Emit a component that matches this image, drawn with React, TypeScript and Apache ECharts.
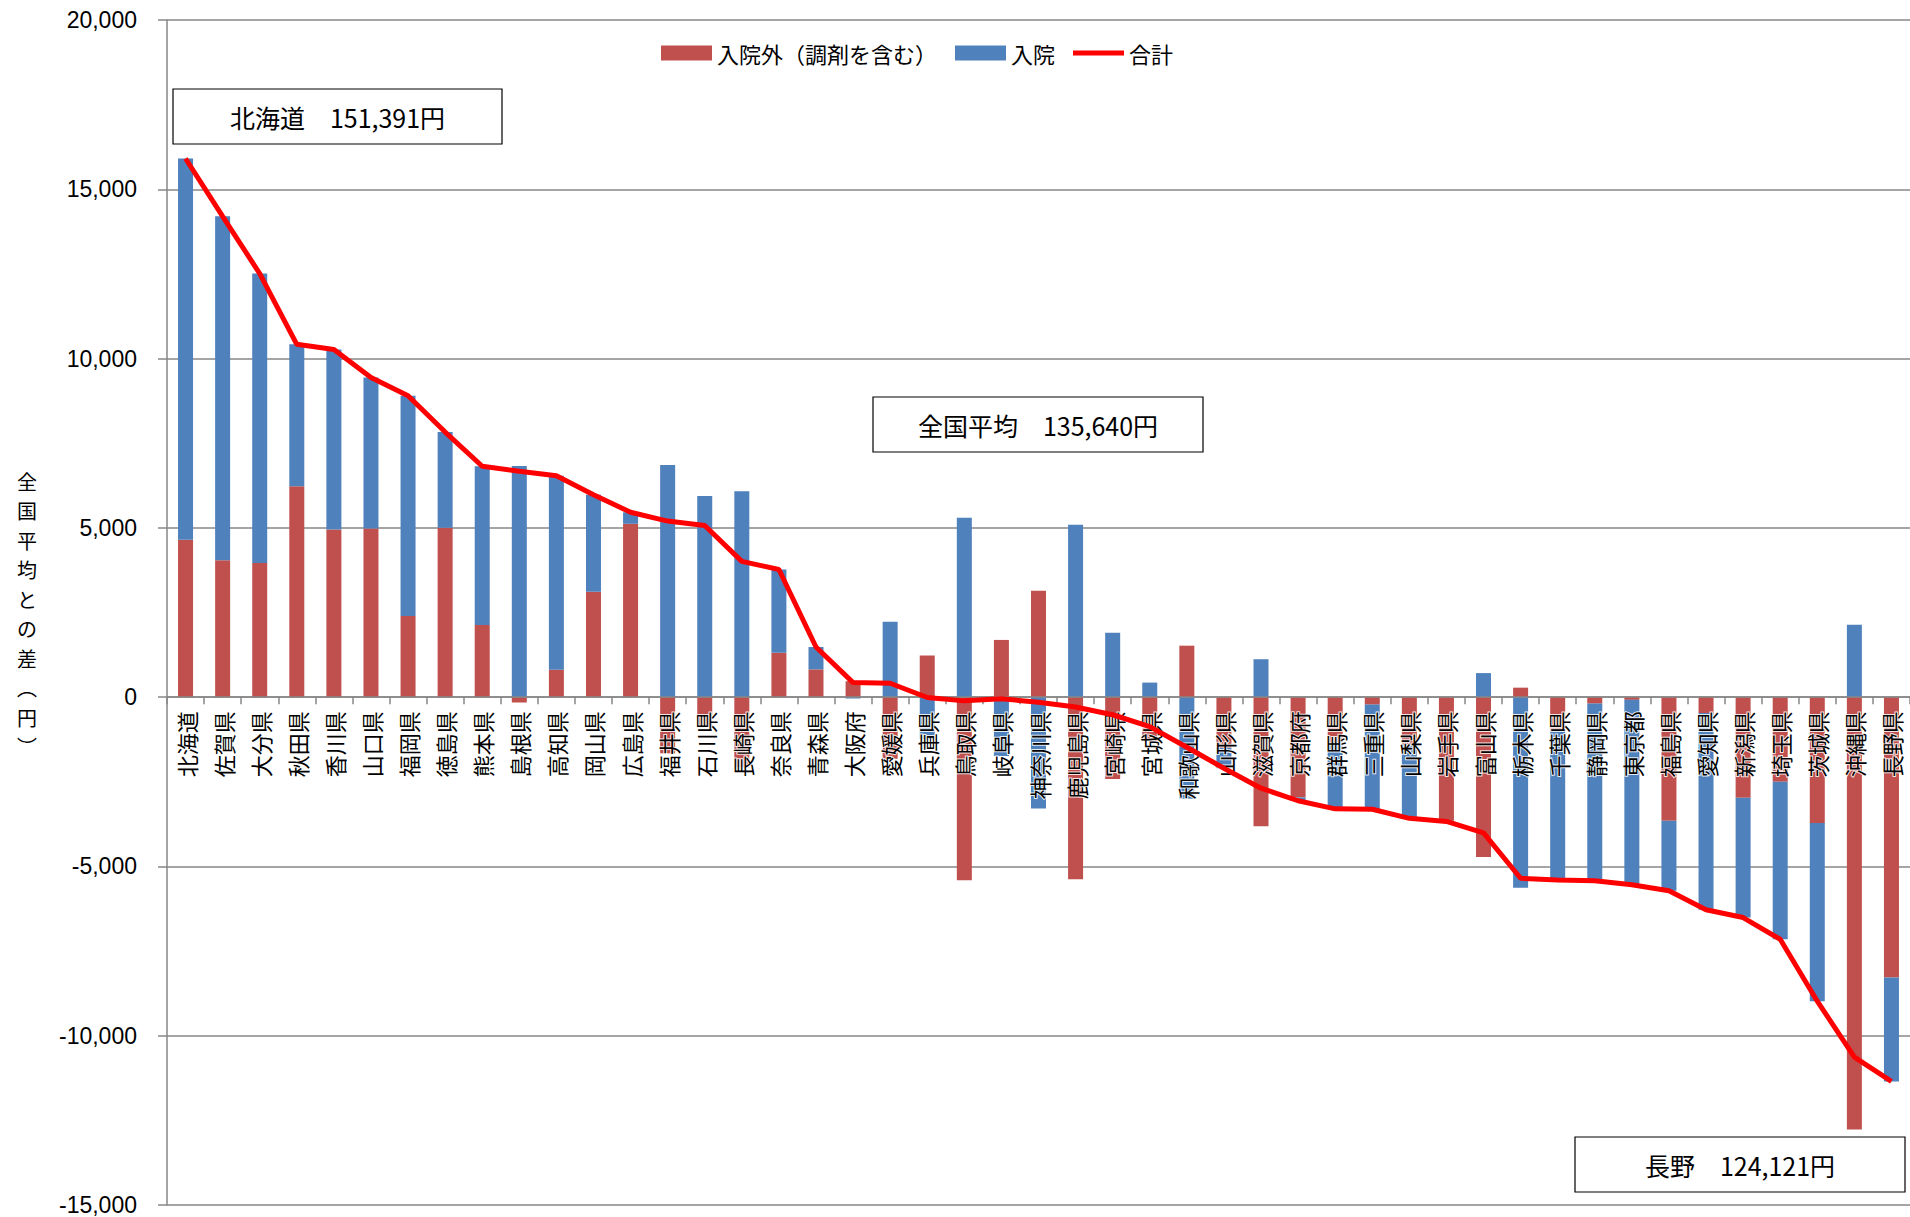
import React, { useEffect, useRef } from "react";
import * as echarts from "echarts";

const categories = [
  "北海道", "佐賀県", "大分県", "秋田県", "香川県", "山口県", "福岡県", "徳島県", "熊本県", "島根県",
  "高知県", "岡山県", "広島県", "福井県", "石川県", "長崎県", "奈良県", "青森県", "大阪府", "愛媛県",
  "兵庫県", "鳥取県", "岐阜県", "神奈川県", "鹿児島県", "宮崎県", "宮城県", "和歌山県", "山形県", "滋賀県",
  "京都府", "群馬県", "三重県", "山梨県", "岩手県", "富山県", "栃木県", "千葉県", "静岡県", "東京都",
  "福島県", "愛知県", "新潟県", "埼玉県", "茨城県", "沖縄県", "長野県",
];

// 入院外（調剤を含む）
const outpatient = [
  4650, 4040, 3960, 6230, 4950, 4980, 2400, 5000, 2130, -160,
  810, 3110, 5120, -1660, -870, -2070, 1310, 820, 470, -1820,
  1230, -5410, 1690, 3140, -5380, -2420, -1300, 1520, -1500, -3810,
  -2960, -1350, -220, -1400, -3650, -4720, 280, -1000, -190, -80,
  -3650, -470, -2970, -2500, -3720, -12770, -8280,
];

// 入院
const inpatient = [
  11260, 10160, 8550, 4190, 5320, 4460, 6500, 2830, 4690, 6830,
  5730, 2870, 340, 6860, 5940, 6080, 2460, 660, -40, 2230,
  -1240, 5300, -1740, -3290, 5090, 1900, 430, -3000, -600, 1120,
  -100, -1950, -3090, -2180, -20, 710, -5630, -4400, -5230, -5460,
  -2070, -5810, -3540, -4650, -5260, 2140, -3070,
];

// 合計
const totals = [
  15910, 14200, 12510, 10420, 10270, 9440, 8900, 7830, 6820, 6670,
  6540, 5980, 5460, 5200, 5070, 4010, 3770, 1480, 430, 410,
  -10, -110, -50, -150, -290, -520, -870, -1480, -2100, -2690,
  -3060, -3300, -3310, -3580, -3670, -4010, -5350, -5400, -5420, -5540,
  -5720, -6280, -6510, -7150, -8980, -10630, -11350,
];

const seriesNames = ["入院外（調剤を含む）", "入院", "合計"];
const yMin = -15000;
const yMax = 20000;
const yInterval = 5000;

const notes = [
  { text: "北海道\u3000151,391円", x: 173, y: 89, w: 329, h: 55 },
  { text: "全国平均\u3000135,640円", x: 873, y: 397, w: 330, h: 55 },
  { text: "長野\u3000124,121円", x: 1575, y: 1137, w: 330, h: 55 },
];

const yTitleChars = ["全", "国", "平", "均", "と", "の", "差", "︵", "円", "︶"];

const JP = '"Noto Sans CJK JP", "Noto Sans", sans-serif';
const NUM = '"Liberation Sans Narrow", "Liberation Sans", "DejaVu Sans", sans-serif';

const GRID_TOP = 20;
const GRID_H = 1185;

export default function App() {
  const ref = useRef<HTMLDivElement>(null);

  useEffect(() => {
    if (!ref.current) return;
    const chart = echarts.init(ref.current, undefined, { renderer: "svg" });

    const graphics: any[] = [];
    notes.forEach((n) => {
      graphics.push({
        type: "rect",
        shape: { x: n.x, y: n.y, width: n.w, height: n.h },
        style: { fill: "#fff", stroke: "#000", lineWidth: 1.2 },
        z: 100,
      });
      graphics.push({
        type: "text",
        x: n.x + n.w / 2,
        y: n.y + n.h / 2,
        style: {
          text: n.text,
          fontSize: 25,
          fontFamily: JP,
          fill: "#000",
          align: "center",
          verticalAlign: "middle",
        },
        z: 101,
      });
    });
    const pitch = 29.5;
    const y0 = 614 - ((yTitleChars.length - 1) * pitch) / 2;
    yTitleChars.forEach((ch, i) => {
      graphics.push({
        type: "text",
        x: 27,
        y: y0 + i * pitch,
        style: {
          text: ch,
          fontSize: 20,
          lineHeight: 26,
          fontFamily: JP,
          fill: "#000",
          align: "center",
          verticalAlign: "middle",
        },
      });
    });

    // distance from grid bottom up to the value 0
    const zeroOffset = -((0 - yMin) / (yMax - yMin)) * GRID_H;

    chart.setOption({
      animation: false,
      backgroundColor: "#fff",
      grid: { left: 167, top: GRID_TOP, width: 1745, height: GRID_H, containLabel: false },
      legend: {
        left: 661,
        top: 42,
        padding: 0,
        itemWidth: 51,
        itemHeight: 15,
        itemGap: 18,
        symbolKeepAspect: true,
        textStyle: { fontSize: 22, fontFamily: JP, color: "#000" },
        data: [
          { name: seriesNames[0], icon: "rect" },
          { name: seriesNames[1], icon: "rect" },
          { name: seriesNames[2], icon: "path://M0,0H51V5H0Z" },
        ],
      },
      xAxis: {
        type: "category",
        data: categories,
        offset: zeroOffset,
        axisLine: { onZero: false, lineStyle: { color: "#878787", width: 1.5 } },
        axisTick: { show: true, length: 7, lineStyle: { color: "#878787", width: 1.5 } },
        axisLabel: {
          interval: 0,
          rotate: 90,
          margin: 14,
          fontSize: 22,
          fontFamily: JP,
          color: "#000",
          textBorderColor: "rgba(255,255,255,0.85)",
          textBorderWidth: 2,
        },
        z: 5,
      },
      yAxis: {
        type: "value",
        min: yMin,
        max: yMax,
        interval: yInterval,
        axisLine: { show: true, lineStyle: { color: "#878787", width: 1.5 } },
        axisTick: { show: true, length: 9, lineStyle: { color: "#878787", width: 1.5 } },
        axisLabel: {
          margin: 30,
          fontSize: 23,
          fontFamily: NUM,
          color: "#000",
          formatter: (v: number) => v.toLocaleString("en-US"),
        },
        splitLine: { show: true, lineStyle: { color: "#878787", width: 1.5 } },
      },
      series: [
        {
          name: seriesNames[0],
          type: "bar",
          stack: "total",
          data: outpatient,
          barWidth: 15,
          itemStyle: { color: "#C0504D" },
        },
        {
          name: seriesNames[1],
          type: "bar",
          stack: "total",
          data: inpatient,
          barWidth: 15,
          itemStyle: { color: "#4F81BD" },
        },
        {
          name: seriesNames[2],
          type: "line",
          data: totals,
          symbol: "none",
          z: 10,
          lineStyle: { color: "#FF0000", width: 5 },
          itemStyle: { color: "#FF0000" },
        },
      ],
      graphic: graphics,
    });

    return () => chart.dispose();
  }, []);

  return (
    <div
      ref={ref}
      style={{ position: "absolute", left: 0, top: 0, width: 1910, height: 1217 }}
    />
  );
}
